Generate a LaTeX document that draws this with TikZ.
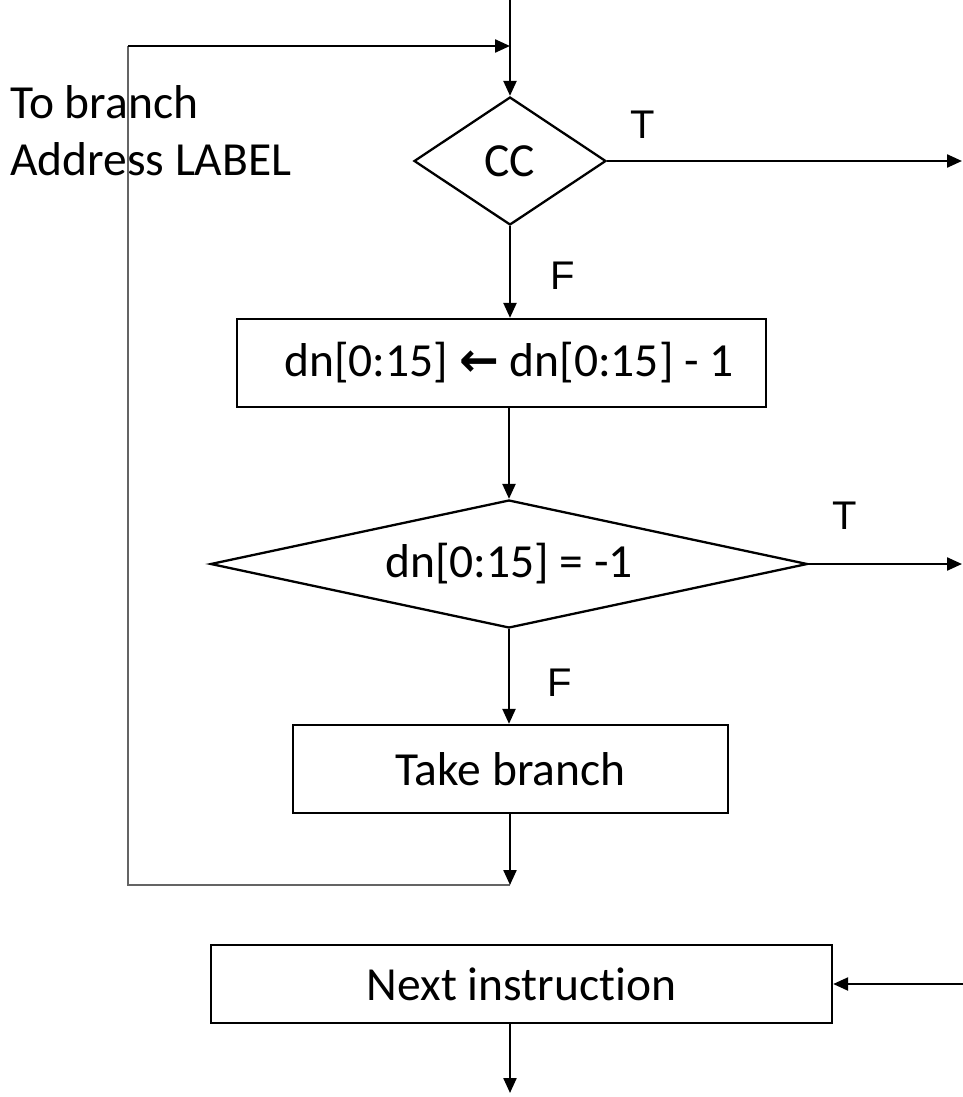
\documentclass[tikz,border=0pt]{standalone}
\usepackage{fontspec}
\setmainfont{Carlito}[RawFeature=-liga]
\newfontfamily\arialf{Liberation Sans}
\newfontfamily\dvf{DejaVu Sans}
\usetikzlibrary{arrows.meta,shapes.geometric,calc}
\definecolor{loopgrey}{RGB}{100,100,100}
\tikzset{
  blk/.style={line width=2.3pt, black},
  arr/.style={blk, -{Triangle[length=15pt,width=13pt]}},
  greyline/.style={line width=1.6pt, loopgrey},
  txt/.style={font=\fontsize{47.5}{57}\selectfont, inner sep=0pt},
  lbl/.style={font=\arialf\fontsize{40}{48}\selectfont, inner sep=0pt},
  boxnode/.style={draw, blk, rectangle, inner sep=0pt, font=\fontsize{47.5}{57}\selectfont},
  dianode/.style={draw, blk, diamond, inner sep=0pt, font=\fontsize{47.5}{57}\selectfont},
}
\begin{document}
\begin{tikzpicture}[x=1pt,y=-1pt]
\useasboundingbox (0,0) rectangle (963,1097);
% nodes
\node[dianode, shape aspect=1.5, minimum width=192pt, minimum height=128pt] (cc) at (510,161) {CC};
\node[boxnode, minimum width=529pt, minimum height=88pt] (b1) at (501.5,363) {\hspace{15pt}dn[0:15] {\dvf\bfseries ←} dn[0:15] - 1};
\node[dianode, shape aspect=4.66, minimum width=597pt, minimum height=128pt] (d2) at (509,564) {dn[0:15] = -1};
\node[boxnode, minimum width=435pt, minimum height=88pt] (tb) at (510.5,769) {Take branch};
\node[boxnode, minimum width=621pt, minimum height=78pt] (ni) at (521.5,984) {Next instruction};
% labels
\node[txt, anchor=base west] (l1) at (10,118) {To branch};
\node[txt, anchor=base west] (l2) at (10,175) {Address LABEL};
\node[lbl] (t1) at (643,125) {T};
\node[lbl] (f1) at (563,276) {F};
\node[lbl] (t2) at (845,516) {T};
\node[lbl] (f2) at (560,683) {F};
% coordinates
\coordinate (top) at (510,0);
\coordinate (loopTL) at (128,46);
\coordinate (loopJ) at (510,46);
\coordinate (loopB) at (510,885);
\coordinate (loopBL) at (128,885);
\coordinate (out1) at (962,161);
\coordinate (out2) at (962,564);
\coordinate (in3) at (963,984);
\coordinate (niout) at (510,1093);
% connectors
\draw[greyline] (loopB) -- (loopBL) -- (loopTL);
\draw[arr] (loopTL) -- (loopJ);
\draw[arr] (top) -- (cc.north);
\draw[arr] (cc.east) -- (out1);
\draw[arr] (cc.south) -- (cc.south |- b1.north);
\draw[arr] (b1.south -| d2.north) -- (d2.north);
\draw[arr] (d2.east) -- (out2);
\draw[arr] (d2.south) -- (d2.south |- tb.north);
\draw[arr] (tb.south -| loopB) -- (loopB);
\draw[arr] (in3) -- (ni.east);
\draw[arr] (ni.south -| niout) -- (niout);
\end{tikzpicture}
\end{document}
